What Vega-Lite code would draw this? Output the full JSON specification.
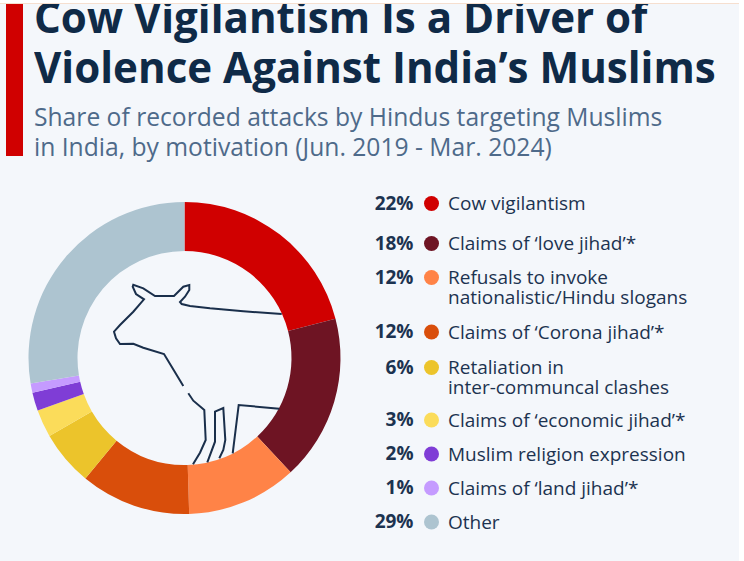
{
"$schema":"https://vega.github.io/schema/vega-lite/v6.json",
"background":"#f4f7fb","padding":0,"spacing":0,
"config":{"view":{"stroke":null},"concat":{"spacing":0},"text":{"font":"Open Sans"}},
"datasets":{
"shares":[
{"rank":1,"pct":22,"pctLabel":"22%","cat":"Cow vigilantism","label":["Cow vigilantism"]},
{"rank":2,"pct":18,"pctLabel":"18%","cat":"love jihad","label":["Claims of ‘love jihad’*"]},
{"rank":3,"pct":12,"pctLabel":"12%","cat":"Refusals","label":["Refusals to invoke","nationalistic/Hindu slogans"]},
{"rank":4,"pct":12,"pctLabel":"12%","cat":"Corona jihad","label":["Claims of ‘Corona jihad’*"]},
{"rank":5,"pct":6,"pctLabel":"6%","cat":"Retaliation","label":["Retaliation in","inter-communcal clashes"]},
{"rank":6,"pct":3,"pctLabel":"3%","cat":"economic jihad","label":["Claims of ‘economic jihad’*"]},
{"rank":7,"pct":2,"pctLabel":"2%","cat":"Muslim religion expression","label":["Muslim religion expression"]},
{"rank":8,"pct":1,"pctLabel":"1%","cat":"land jihad","label":["Claims of ‘land jihad’*"]},
{"rank":9,"pct":29,"pctLabel":"29%","cat":"Other","label":["Other"]}
],
"cow":[
{"p":1,"i":1,"x":281.7,"y":314},{"p":1,"i":2,"x":243.3,"y":311.3},{"p":1,"i":3,"x":210,"y":308.3},{"p":1,"i":4,"x":190,"y":306},{"p":1,"i":5,"x":181.7,"y":304},{"p":1,"i":6,"x":180,"y":302},{"p":1,"i":7,"x":185,"y":296.7},{"p":1,"i":8,"x":189.3,"y":290},{"p":1,"i":9,"x":189.3,"y":285},{"p":1,"i":10,"x":183.3,"y":286.7},{"p":1,"i":11,"x":174,"y":296},{"p":1,"i":12,"x":155,"y":296},{"p":1,"i":13,"x":143.3,"y":288.3},{"p":1,"i":14,"x":133.3,"y":284.7},{"p":1,"i":15,"x":132.7,"y":286.7},{"p":1,"i":16,"x":136,"y":294},{"p":1,"i":17,"x":144,"y":299.3},{"p":1,"i":18,"x":133.3,"y":311.7},{"p":1,"i":19,"x":120,"y":325},{"p":1,"i":20,"x":114,"y":331.7},{"p":1,"i":21,"x":116,"y":338.3},{"p":1,"i":22,"x":120,"y":344},{"p":1,"i":23,"x":133.3,"y":343.7},{"p":1,"i":24,"x":143.3,"y":347.7},{"p":1,"i":25,"x":164,"y":354},{"p":1,"i":26,"x":171.7,"y":366.7},{"p":1,"i":27,"x":183.3,"y":386},
{"p":2,"i":1,"x":188.3,"y":393.3},{"p":2,"i":2,"x":193.3,"y":400.7},{"p":2,"i":3,"x":204.3,"y":410},{"p":2,"i":4,"x":205.7,"y":440},{"p":2,"i":5,"x":200,"y":452.7},{"p":2,"i":6,"x":193,"y":464.3},
{"p":3,"i":1,"x":207.3,"y":462.3},{"p":3,"i":2,"x":215,"y":441.7},{"p":3,"i":3,"x":215,"y":411.7},{"p":3,"i":4,"x":223.3,"y":408},{"p":3,"i":5,"x":225.3,"y":440},{"p":3,"i":6,"x":223.3,"y":450},{"p":3,"i":7,"x":219.3,"y":458.3},
{"p":4,"i":1,"x":232.7,"y":453.3},{"p":4,"i":2,"x":238.7,"y":405},{"p":4,"i":3,"x":279.3,"y":408.7}
],
"head":[
{"line":1,"text":"Cow Vigilantism Is a Driver of","kind":"title"},
{"line":2,"text":"Violence Against India’s Muslims","kind":"title"},
{"line":3,"text":"Share of recorded attacks by Hindus targeting Muslims","kind":"sub"},
{"line":4,"text":"in India, by motivation (Jun. 2019 - Mar. 2024)","kind":"sub"}
]},
"hconcat":[
{"vconcat":[
{"width":739,"height":3,"data":{"values":[{"k":"a"}]},"mark":{"type":"rect","fill":"#ffffff"},"encoding":{}},
{"width":739,"height":1,"data":{"values":[{"k":"b"}]},"mark":{"type":"rect","fill":"#f6dfcf"},"encoding":{}},
{"hconcat":[
{"width":6,"height":164,"data":{"values":[{"k":"c"}]},"mark":{"type":"rect","fill":"#f4f7fb"},"encoding":{}},
{"width":17,"height":152,"data":{"values":[{"k":"d"}]},"mark":{"type":"rect","fill":"#d00000"},"encoding":{}},
{"width":11,"height":164,"data":{"values":[{"k":"e"}]},"mark":{"type":"rect","fill":"#f4f7fb"},"encoding":{}},
{"width":705,"height":164,"data":{"name":"head"},
"layer":[
{"transform":[{"filter":"datum.kind==='title'"}],"mark":{"type":"text","clip":true,"align":"left","baseline":"alphabetic","fontSize":42.1,"fontWeight":700,"color":"#0f2a47"},
"encoding":{"x":{"datum":0,"type":"quantitative","scale":{"domain":[0,705],"range":[0,705]},"axis":null},"y":{"field":"line","type":"quantitative","scale":{"domain":[1,2,3,4],"range":[29,79,122,152],"nice":false,"zero":false},"axis":null},"text":{"field":"text"}}},
{"transform":[{"filter":"datum.kind==='sub'"}],"mark":{"type":"text","clip":true,"align":"left","baseline":"alphabetic","fontSize":24.65,"fontWeight":400,"color":"#4e6a8a"},
"encoding":{"x":{"datum":0,"type":"quantitative","scale":{"domain":[0,705],"range":[0,705]},"axis":null},"y":{"field":"line","type":"quantitative","scale":{"domain":[1,2,3,4],"range":[29,79,122,152],"nice":false,"zero":false},"axis":null},"text":{"field":"text"}}}
]}
]},
{"hconcat":[
{"width":369,"height":380,
"layer":[
{"data":{"name":"shares"},"mark":{"type":"arc","outerRadius":156,"innerRadius":107},
"encoding":{"theta":{"field":"pct","type":"quantitative","stack":true},"order":{"field":"rank","type":"ordinal"},
"color":{"field":"rank","type":"ordinal","legend":null,"scale":{"domain":[1,2,3,4,5,6,7,8,9],"range":["#d00000","#6e1423","#ff8347","#d94e0b","#ecc42b","#fbdc5a","#7f3dd6","#c59bff","#adc4d0"]}}}},
{"data":{"name":"cow"},"mark":{"type":"line","stroke":"#1a2f4b","strokeWidth":2,"interpolate":"linear"},
"encoding":{"x":{"field":"x","type":"quantitative","axis":null,"scale":{"domain":[0,369],"nice":false,"zero":false}},"y":{"field":"y","type":"quantitative","axis":null,"scale":{"domain":[548,168],"nice":false,"zero":false}},"detail":{"field":"p"},"order":{"field":"i"}}}
]},
{"width":370,"height":380,"data":{"name":"shares"},
"encoding":{"y":{"field":"rank","type":"quantitative","axis":null,"scale":{"domain":[1,2,3,4,5,6,7,8,9],"range":[35.5,75.5,109.5,164,199.5,252,286,320,354],"nice":false,"zero":false}}},
"layer":[
{"mark":{"type":"text","align":"right","baseline":"middle","fontSize":19,"fontWeight":700,"color":"#1c3350"},
"encoding":{"x":{"datum":44.5,"type":"quantitative","axis":null,"scale":{"domain":[0,370],"range":[0,370]}},"text":{"field":"pctLabel"}}},
{"mark":{"type":"point","filled":true,"size":225,"opacity":1,"shape":"circle"},
"encoding":{"x":{"datum":62.5,"type":"quantitative","axis":null,"scale":{"domain":[0,370],"range":[0,370]}},
"color":{"field":"rank","type":"ordinal","legend":null,"scale":{"domain":[1,2,3,4,5,6,7,8,9],"range":["#d00000","#6e1423","#ff8347","#d94e0b","#ecc42b","#fbdc5a","#7f3dd6","#c59bff","#adc4d0"]}}}},
{"mark":{"type":"text","align":"left","baseline":"alphabetic","dy":6.5,"fontSize":19,"lineHeight":20,"color":"#1c3350"},
"encoding":{"x":{"datum":79,"type":"quantitative","axis":null,"scale":{"domain":[0,370],"range":[0,370]}},"text":{"field":"label"}}}
]}
]}
]},
{"width":5,"height":561,"data":{"values":[{"k":"f"}]},"mark":{"type":"rect","fill":"#ffffff"},"encoding":{}}
]
}
